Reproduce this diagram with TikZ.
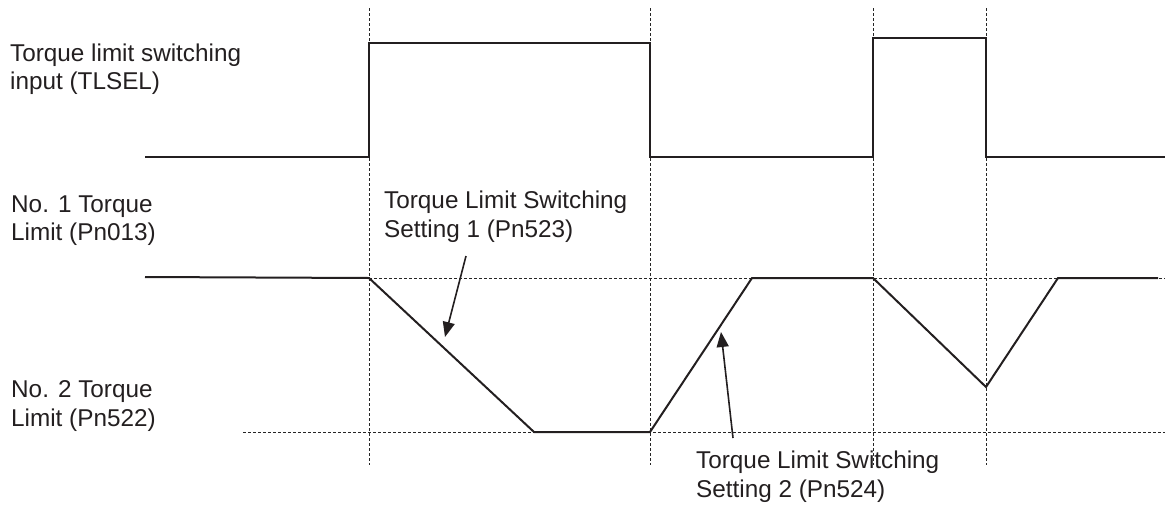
\documentclass[tikz,border=0pt]{standalone}
\usepackage{fontspec}
\setmainfont{Liberation Sans}
\usetikzlibrary{arrows.meta}
\definecolor{ink}{HTML}{231F20}
\begin{document}
\begin{tikzpicture}[x=1pt,y=-1pt,
  lbl/.style={anchor=base west,inner sep=0pt,align=left,text=ink,
    font=\fontsize{24.3}{28.5}\selectfont},
  guide/.style={line width=1pt,dash pattern=on 3pt off 2pt,black!85},
  sig/.style={line width=2.6pt,ink,line join=miter},
  trq/.style={line width=2pt,ink,line join=miter},
  callout/.style={line width=1.6pt,ink,-{Triangle[length=15pt,width=12pt]}}]
\useasboundingbox (0,0) rectangle (1165,504);
% guide lines
\foreach \x/\n in {369/a,650/b,873/c,986/d}{
  \coordinate (t\n) at (\x,8);
  \coordinate (b\n) at (\x,465);
  \draw[guide] (t\n) -- (b\n);
}
\coordinate (hu0) at (369,278); \coordinate (hu1) at (1165,278);
\coordinate (hl0) at (243,432); \coordinate (hl1) at (1165,432);
\draw[guide] (hu0) -- (hu1);
\draw[guide] (hl0) -- (hl1);
% switching input signal
\coordinate (s0) at (145,157);
\coordinate (s1) at (369,157); \coordinate (s2) at (369,43);
\coordinate (s3) at (650,43);  \coordinate (s4) at (650,157);
\coordinate (s5) at (873,157); \coordinate (s6) at (873,38);
\coordinate (s7) at (986,38);  \coordinate (s8) at (986,157);
\coordinate (s9) at (1165,157);
\draw[sig] (s0) -- (s1) -- (s2) -- (s3) -- (s4) -- (s5) -- (s6) -- (s7) -- (s8) -- (s9);
% torque limit
\coordinate (q0) at (145,277);
\coordinate (q1) at (369,278); \coordinate (q2) at (534,432);
\coordinate (q3) at (650,432); \coordinate (q4) at (752,278);
\coordinate (q5) at (873,278); \coordinate (q6) at (986,387);
\coordinate (q7) at (1058,278); \coordinate (q8) at (1158,278);
\draw[trq] (q0) -- (q1) -- (q2) -- (q3) -- (q4) -- (q5) -- (q6) -- (q7) -- (q8);
% labels (anchor = baseline of the last line)
\node[lbl] (ltl) at (10,89.5) {Torque limit switching\\input (TLSEL)};
\node[lbl] (ln1) at (11,240.5) {No. 1 Torque\\Limit (Pn013)};
\node[lbl] (ln2) at (11,426) {No. 2 Torque\\Limit (Pn522)};
\node[lbl] (ls1) at (384,237) {Torque Limit Switching\\Setting 1 (Pn523)};
\node[lbl] (ls2) at (696,497) {Torque Limit Switching\\Setting 2 (Pn524)};
% callouts
\coordinate (a1s) at (466,256); \coordinate (a1e) at (445,337);
\coordinate (a2s) at (733,438); \coordinate (a2e) at (721,332);
\draw[callout] (a1s) -- (a1e);
\draw[callout] (a2s) -- (a2e);
\end{tikzpicture}
\end{document}
